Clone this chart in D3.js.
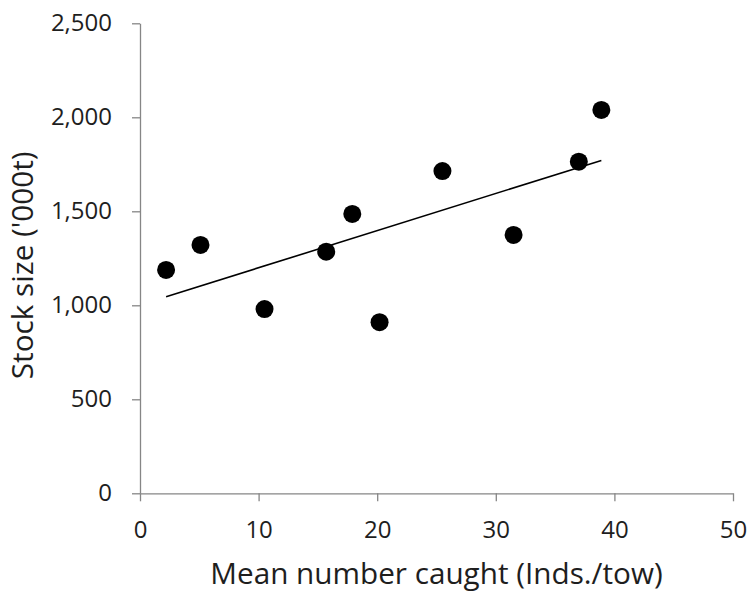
<html>
<head>
    <meta charset="UTF-8">
    <title>Stock size vs mean number caught</title>
    <script src="https://d3js.org/d3.v7.min.js"></script>
    <style>
        body { margin: 0; background: #fff; }
        .axis path, .axis line { stroke: #868686; stroke-width: 1.3px; }
        .axis text { font-family: "Open Sans", sans-serif; font-size: 24px; fill: #1e1e1e; }
        .title { font-family: "Open Sans", sans-serif; font-size: 29.7px; fill: #1e1e1e; }
        .trend { fill: none; stroke: #000; stroke-width: 1.6px; }
    </style>
</head>
<body>
    <svg width="749" height="594"></svg>
    <script>
        // values
        var caught = [2.2, 5.1, 10.5, 15.7, 17.9, 20.2, 25.5, 31.5, 37.0, 38.9];
        var stock = [1188, 1321, 980, 1285, 1486, 910, 1714, 1374, 1764, 2039];
        var xTicks = [0, 10, 20, 30, 40, 50];
        var yTicks = [0, 500, 1000, 1500, 2000, 2500];

        var svg = d3.select('svg'),
            plotLeft = 140, plotRight = 733, plotTop = 23.3, plotBottom = 493.3;

        var x = d3.scaleLinear().domain([0, 50]).range([plotLeft, plotRight]),
            y = d3.scaleLinear().domain([0, 2500]).range([plotBottom, plotTop]);

        var points = caught.map((c, i) => ({ x: c, y: stock[i] }));

        // least squares trend line over the range of the data
        var mx = d3.mean(caught), my = d3.mean(stock);
        var slope = d3.sum(points, d => (d.x - mx) * (d.y - my)) / d3.sum(points, d => (d.x - mx) * (d.x - mx));
        var fit = d3.extent(caught).map(v => ({ x: v, y: my + slope * (v - mx) }));

        svg.append('g')
            .attr('class', 'axis')
            .attr('transform', 'translate(0,' + plotBottom + ')')
            .call(d3.axisBottom(x).tickValues(xTicks).tickSizeInner(8).tickSizeOuter(0).tickPadding(20));

        svg.append('g')
            .attr('class', 'axis')
            .attr('transform', 'translate(' + plotLeft + ',0)')
            .call(d3.axisLeft(y).tickValues(yTicks).tickSizeInner(8).tickSizeOuter(0).tickPadding(20).tickFormat(d3.format(',')));

        svg.append('path')
            .attr('class', 'trend')
            .attr('d', d3.line().x(d => x(d.x)).y(d => y(d.y))(fit));

        svg.selectAll('.dot')
            .data(points)
            .enter()
            .append('circle')
            .attr('class', 'dot')
            .attr('cx', d => x(d.x))
            .attr('cy', d => y(d.y))
            .attr('r', 9)
            .attr('fill', '#000');

        svg.append('text')
            .attr('class', 'title')
            .attr('x', (plotLeft + plotRight) / 2)
            .attr('y', 584)
            .attr('text-anchor', 'middle')
            .text('Mean number caught (Inds./tow)');

        svg.append('text')
            .attr('class', 'title')
            .attr('transform', 'translate(33,' + ((plotTop + plotBottom) / 2 + 7) + ') rotate(-90)')
            .attr('text-anchor', 'middle')
            .text("Stock size ('000t)");
    </script>
</body>
</html>
